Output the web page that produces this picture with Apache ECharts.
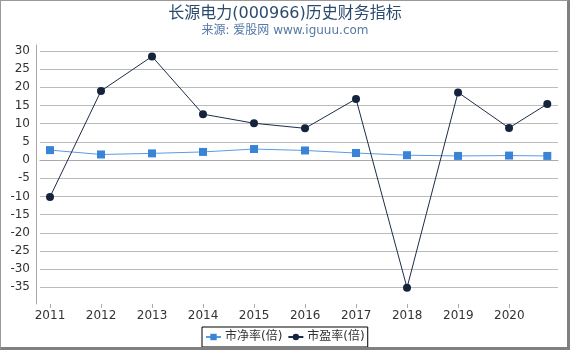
<!DOCTYPE html>
<html><head><meta charset="utf-8">
<script src="https://cdn.jsdelivr.net/npm/echarts@6/dist/echarts.min.js"></script>
<style>
html,body{margin:0;padding:0;background:#fff;}
#c{position:absolute;left:0;top:0;width:570px;height:350px;}
#f{position:absolute;left:0;top:0;width:566px;height:346px;border-left:1px solid #999;border-top:1px solid #999;border-right:3px solid #808080;border-bottom:3px solid #808080;pointer-events:none;}
</style></head>
<body><div id="c"></div><div id="f"></div>
<script>
const titleText = '长源电力(000966)历史财务指标';
const subText = '来源: 爱股网 www.iguuu.com';
const years = [2011, 2012, 2013, 2014, 2015, 2016, 2017, 2018, 2019, 2020, 2020.75];
const pbName = '市净率(倍)';
const peName = '市盈率(倍)';
const pbValues = [2.7, 1.5, 1.8, 2.2, 3.0, 2.6, 1.9, 1.3, 1.1, 1.2, 1.1];
const peValues = [-10.2, 19.0, 28.5, 12.6, 10.1, 8.7, 16.8, -35.2, 18.6, 8.8, 15.4];
const yTickMin = -35, yTickMax = 30, yTickStep = 5;
const xTickMin = 2011, xTickMax = 2020;

const FONT = '"DejaVu Sans", "Noto Sans CJK SC", sans-serif';
const chart = echarts.init(document.getElementById('c'), null, {renderer: 'canvas'});
const pair = (vals) => vals.map((v, i) => [years[i], v]);
chart.setOption({
  animation: false,
  textStyle: {fontFamily: FONT},
  title: {
    text: titleText, subtext: subText, left: 'center', top: 1, itemGap: 3,
    textStyle: {fontFamily: FONT, fontSize: 16, fontWeight: 'normal', color: '#2c4a6e'},
    subtextStyle: {fontFamily: FONT, fontSize: 12, color: '#5479a6'}
  },
  legend: {
    left: 202, top: 327, padding: [4, 3, 4, 3], itemGap: 5, itemWidth: 15, itemHeight: 8,
    borderColor: '#000', borderWidth: 1,
    textStyle: {fontFamily: FONT, fontSize: 12, color: '#333', padding: [0, 0, 0, -1]},
    data: [pbName, peName]
  },
  grid: [
    {left: 40, right: 12, top: 51, bottom: 62.7},
    {left: 50, right: 60.7, top: 45, bottom: 46},
    {left: 40, right: 12, top: 45, bottom: 46}
  ],
  xAxis: [
    {gridIndex: 0, type: 'value', min: 0, max: 1, show: false},
    {gridIndex: 1, type: 'value', min: xTickMin, max: xTickMax, interval: 1,
     axisLine: {show: false}, splitLine: {show: false},
     axisTick: {show: true, length: 4, lineStyle: {color: '#aaa'}},
     axisLabel: {margin: 6, fontSize: 12, color: '#333', fontFamily: FONT, formatter: v => String(v)}},
    {gridIndex: 2, type: 'value', min: 2010.804, max: 2020.96,
     axisLine: {show: true, lineStyle: {color: '#aaa'}}, axisTick: {show: false},
     axisLabel: {show: false}, splitLine: {show: false}}
  ],
  yAxis: [
    {gridIndex: 0, type: 'value', min: yTickMin, max: yTickMax, interval: yTickStep,
     axisLine: {show: false}, axisTick: {show: false},
     axisLabel: {margin: 10, fontSize: 12, color: '#333', fontFamily: FONT},
     splitLine: {show: true, lineStyle: {color: '#bbb', width: 1}}},
    {gridIndex: 1, type: 'value', min: 0, max: 1, show: false},
    {gridIndex: 2, type: 'value', min: -39.68, max: 31.65, offset: 4,
     axisLine: {show: true, lineStyle: {color: '#aaa'}}, axisTick: {show: false},
     axisLabel: {show: false}, splitLine: {show: false}}
  ],
  series: [
    {name: pbName, type: 'line', xAxisIndex: 2, yAxisIndex: 2, data: pair(pbValues),
     symbol: 'rect', symbolSize: 8, itemStyle: {color: '#3a84d8'},
     lineStyle: {color: '#5a9be2', width: 1}},
    {name: peName, type: 'line', xAxisIndex: 2, yAxisIndex: 2, data: pair(peValues),
     symbol: 'circle', symbolSize: 8, itemStyle: {color: '#15243d'},
     lineStyle: {color: '#1c2c48', width: 1}}
  ]
});
</script></body></html>
